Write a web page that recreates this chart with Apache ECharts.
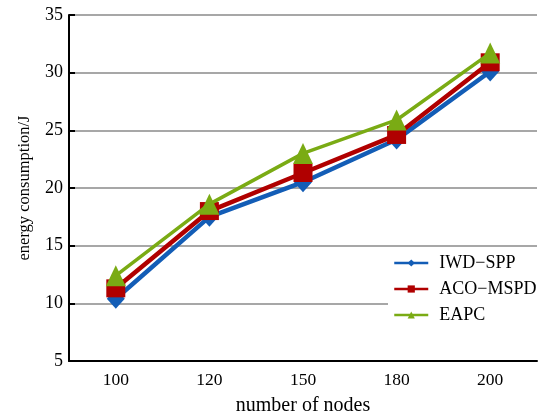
<!DOCTYPE html>
<html>
<head>
<meta charset="utf-8">
<title>energy consumption</title>
<script src="https://cdn.jsdelivr.net/npm/echarts@6/dist/echarts.min.js"></script>
<style>
  html, body { margin: 0; padding: 0; background: #fff; }
  #main { width: 550px; height: 415px; }
</style>
</head>
<body>
<div id="main"></div>
<script type="text/javascript">
    var nodes = ['100', '120', '150', '180', '200'];
    var iwdSpp = [10.4, 17.5, 20.5, 24.2, 30.1];
    var acoMspd = [11.3, 18.0, 21.3, 24.6, 30.9];
    var eapc = [12.4, 18.6, 23.0, 25.9, 31.7];

    var font = '"Liberation Serif", "Times New Roman", serif';

    var myChart = echarts.init(document.getElementById('main'));

    var option = {
        animation: false,
        textStyle: { fontFamily: font },
        grid: { left: 69, right: 13, top: 15, bottom: 54, outerBoundsMode: 'none' },
        legend: {
            orient: 'vertical',
            left: 388,
            top: 251,
            padding: [3, 12, 3, 5],
            backgroundColor: '#fff',
            itemWidth: 34,
            itemHeight: 9,
            itemGap: 8,
            lineStyle: { width: 2.5 },
            textStyle: { fontFamily: font, fontSize: 18, color: '#000', padding: [0, 0, 0, 6] },
            data: ['IWD\u2212SPP', 'ACO\u2212MSPD', 'EAPC']
        },
        xAxis: {
            type: 'category',
            data: nodes,
            name: 'number of nodes',
            nameLocation: 'middle',
            nameGap: 35,
            nameTextStyle: { fontFamily: font, fontSize: 20, color: '#000' },
            axisLine: { lineStyle: { color: '#000', width: 2 } },
            axisTick: { inside: true, length: 6, lineStyle: { color: '#000', width: 2 } },
            axisLabel: { fontFamily: font, fontSize: 17.5, color: '#000', margin: 10 }
        },
        yAxis: {
            type: 'value',
            min: 5,
            max: 35,
            interval: 5,
            name: 'energy consumption/J',
            nameLocation: 'middle',
            nameGap: 36,
            nameTextStyle: { fontFamily: font, fontSize: 16.5, color: '#000' },
            axisLine: { show: true, lineStyle: { color: '#000', width: 2 } },
            axisTick: { show: true, inside: true, length: 6, lineStyle: { color: '#000', width: 2 } },
            axisLabel: { fontFamily: font, fontSize: 18, color: '#000', margin: 6 },
            splitLine: { lineStyle: { color: '#8a8a8a', width: 1.5 } }
        },
        series: [
            {
                name: 'IWD\u2212SPP',
                type: 'line',
                z: 2,
                data: iwdSpp,
                symbol: 'diamond',
                symbolSize: [18, 20],
                color: '#135db6',
                lineStyle: { color: '#135db6', width: 4.5 },
                itemStyle: { color: '#135db6' }
            },
            {
                name: 'ACO\u2212MSPD',
                type: 'line',
                z: 3,
                data: acoMspd,
                symbol: 'rect',
                symbolSize: [19, 18],
                color: '#b00000',
                lineStyle: { color: '#b00000', width: 4.5 },
                itemStyle: { color: '#b00000' }
            },
            {
                name: 'EAPC',
                type: 'line',
                z: 4,
                data: eapc,
                symbol: 'triangle',
                symbolSize: [20, 21],
                color: '#7aab14',
                lineStyle: { color: '#7aab14', width: 3.5 },
                itemStyle: { color: '#7aab14' }
            }
        ]
    };

    myChart.setOption(option);
</script>
</body>
</html>
